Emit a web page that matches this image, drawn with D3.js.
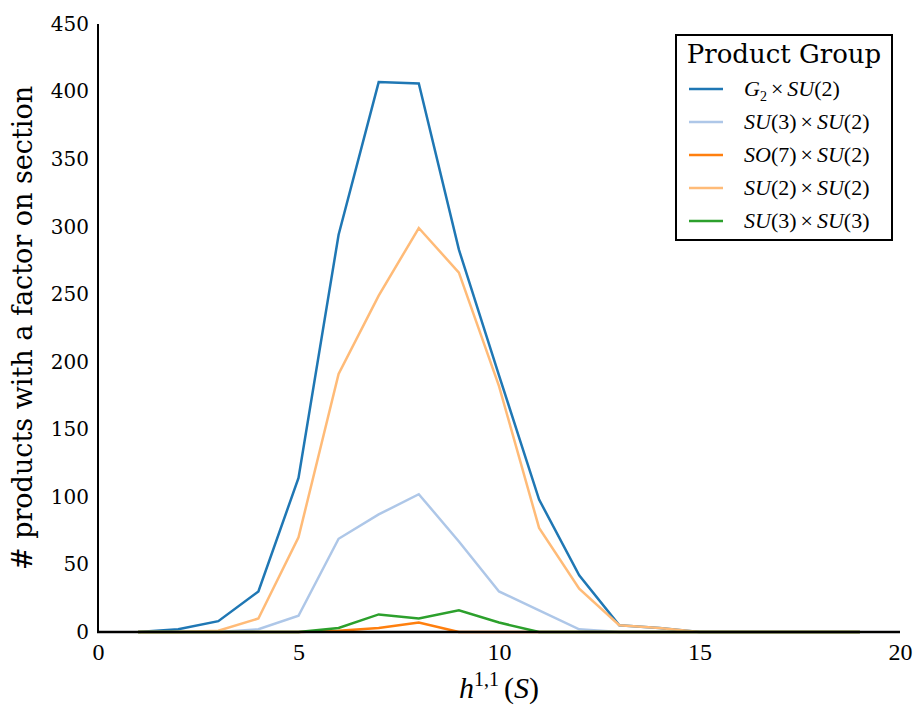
<!DOCTYPE html>
<html>
<head>
<meta charset="utf-8">
<script src="https://cdn.jsdelivr.net/npm/d3@7"></script>
<style>
  body { margin: 0; background: #fff; }
</style>
</head>
<body>
<div id="chart"></div>
<script>
// Chart data
var hValues = [1, 2, 3, 4, 5, 6, 7, 8, 9, 10, 11, 12, 13, 14, 15, 16, 17, 18, 19];
var g2su2   = [0, 2, 8, 30, 114, 294, 407, 406, 283, 190, 98, 42, 5, 3, 0, 0, 0, 0, 0];
var su3su2  = [0, 0, 0, 2, 12, 69, 87, 102, 67, 30, 16, 2, 0, 0, 0, 0, 0, 0, 0];
var so7su2  = [0, 0, 0, 0, 0, 1, 3, 7, 0, 0, 0, 0, 0, 0, 0, 0, 0, 0, 0];
var su2su2  = [0, 0, 1, 10, 70, 191, 249, 299, 266, 182, 77, 32, 5, 3, 0, 0, 0, 0, 0];
var su3su3  = [0, 0, 0, 0, 0, 3, 13, 10, 16, 7, 0, 0, 0, 0, 0, 0, 0, 0, 0];
var xTicks = [0, 5, 10, 15, 20];
var yTicks = [0, 50, 100, 150, 200, 250, 300, 350, 400, 450];

var seriesList = [
  { name: ["G", "2", "SU(2)"], values: g2su2, color: "#1f77b4" },
  { name: ["SU(3)", "", "SU(2)"], values: su3su2, color: "#aec7e8" },
  { name: ["SO(7)", "", "SU(2)"], values: so7su2, color: "#ff7f0e" },
  { name: ["SU(2)", "", "SU(2)"], values: su2su2, color: "#ffbb78" },
  { name: ["SU(3)", "", "SU(3)"], values: su3su3, color: "#2ca02c" }
];

var serif = "DejaVu Serif";
var mathFont = "Liberation Serif";

var svgWidth = 919;
var svgHeight = 707;
var margin = { top: 24, bottom: 75, right: 19, left: 98 };
var width = svgWidth - margin.left - margin.right;
var height = svgHeight - margin.top - margin.bottom;

var svg = d3.select("#chart")
  .append("svg")
  .attr("width", svgWidth)
  .attr("height", svgHeight);

var chartGroup = svg.append("g")
  .attr("transform", `translate(${margin.left}, ${margin.top})`);

var xScale = d3.scaleLinear().domain([0, 20]).range([0, width]);
var yScale = d3.scaleLinear().domain([0, 450]).range([height, 0]);

// Lines
var line = d3.line()
  .x((d, i) => xScale(hValues[i]))
  .y(d => yScale(d));

seriesList.forEach(function(s) {
  chartGroup.append("path")
    .datum(s.values)
    .attr("fill", "none")
    .attr("stroke", s.color)
    .attr("stroke-width", 2.5)
    .attr("d", line);
});

// Axes (no tick marks, only labels)
var bottomAxis = d3.axisBottom(xScale).tickValues(xTicks).tickSize(0).tickPadding(11);
var leftAxis = d3.axisLeft(yScale).tickValues(yTicks).tickSize(0).tickPadding(9);

var gx = chartGroup.append("g")
  .attr("transform", `translate(0, ${height})`)
  .call(bottomAxis)
  .attr("font-family", mathFont)
  .attr("font-size", 24);
gx.select(".domain").remove();
gx.selectAll("text").attr("fill", "#000");

var gy = chartGroup.append("g")
  .call(leftAxis)
  .attr("font-family", serif)
  .attr("font-size", 20);
gy.select(".domain").remove();
gy.selectAll("text").attr("fill", "#000");

// Spines
chartGroup.append("line")
  .attr("x1", 0).attr("x2", 0).attr("y1", 0).attr("y2", height + 1)
  .attr("stroke", "#000").attr("stroke-width", 2);
chartGroup.append("line")
  .attr("x1", -1).attr("x2", width).attr("y1", height).attr("y2", height)
  .attr("stroke", "#000").attr("stroke-width", 2.5);

// Axis labels
svg.append("text")
  .attr("transform", `translate(32, ${margin.top + height / 2}) rotate(-90)`)
  .attr("text-anchor", "middle")
  .attr("font-family", serif)
  .attr("font-size", 27)
  .text("# products with a factor on section");

var xl = svg.append("text")
  .attr("x", margin.left + width / 2)
  .attr("y", 698)
  .attr("text-anchor", "middle")
  .attr("font-family", mathFont)
  .attr("font-size", 30);
xl.append("tspan").attr("font-style", "italic").text("h");
xl.append("tspan").attr("font-size", 20).attr("dy", -12).text("1,1");
xl.append("tspan").attr("dy", 12).attr("dx", 5).text("(");
xl.append("tspan").attr("font-style", "italic").text("S");
xl.append("tspan").text(")");

// Legend
var legend = svg.append("g").attr("transform", "translate(676, 35)");
legend.append("rect")
  .attr("width", 216).attr("height", 205)
  .attr("fill", "#fff").attr("stroke", "#000").attr("stroke-width", 2);
legend.append("text")
  .attr("x", 108).attr("y", 28)
  .attr("text-anchor", "middle")
  .attr("font-family", serif)
  .attr("font-size", 26)
  .text("Product Group");

seriesList.forEach(function(s, i) {
  var yy = 54 + i * 33;
  legend.append("line")
    .attr("x1", 13).attr("x2", 47).attr("y1", yy).attr("y2", yy)
    .attr("stroke", s.color).attr("stroke-width", 2.5);
  var t = legend.append("text")
    .attr("x", 68).attr("y", yy + 7)
    .attr("font-family", mathFont)
    .attr("font-size", 22);
  t.append("tspan").attr("font-style", "italic").text(s.name[0].replace(/\(.*$/, ""));
  var m = s.name[0].match(/\((.*)\)/);
  if (m) t.append("tspan").text("(" + m[1] + ")");
  if (s.name[1]) {
    t.append("tspan").attr("font-size", 14).attr("dy", 5).text(s.name[1]);
    t.append("tspan").attr("dy", -5).attr("dx", 4).text("×");
  } else {
    t.append("tspan").attr("dx", 4).text("×");
  }
  t.append("tspan").attr("dx", 4).attr("font-style", "italic").text(s.name[2].replace(/\(.*$/, ""));
  t.append("tspan").text(s.name[2].match(/\(.*\)/)[0]);
});
</script>
</body>
</html>
